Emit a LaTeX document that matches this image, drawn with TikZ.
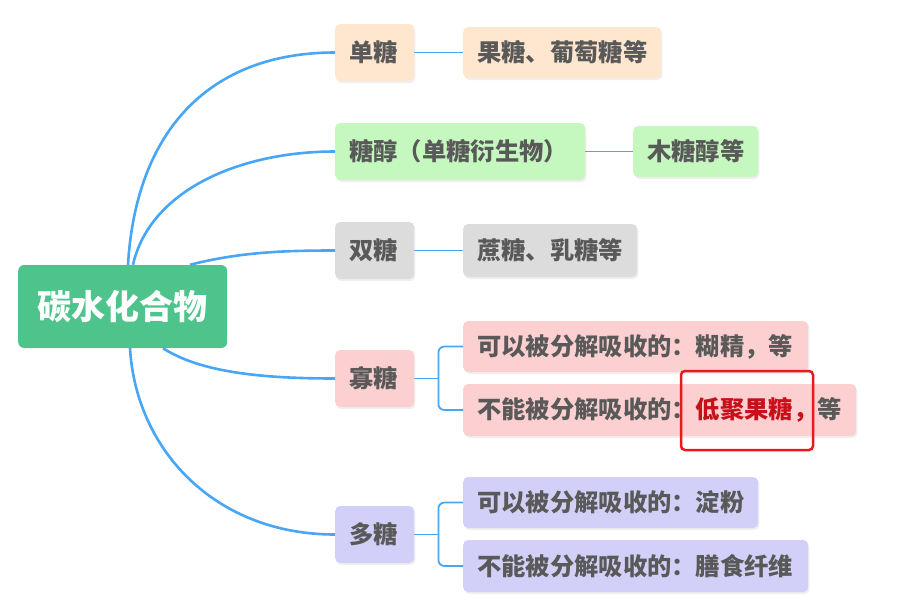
\documentclass[tikz,border=0pt]{standalone}
\usepackage{fontspec}
\setmainfont{Noto Sans CJK SC}
\usetikzlibrary{shadows,calc}
\definecolor{txt}{HTML}{595959}
\definecolor{rootc}{HTML}{4EC38B}
\definecolor{monoc}{HTML}{FFE6CE}
\definecolor{alcc}{HTML}{C4F8BE}
\definecolor{dic}{HTML}{DCDCDC}
\definecolor{olic}{HTML}{FCCFD0}
\definecolor{polyc}{HTML}{D2D0F8}
\definecolor{linec}{HTML}{47A6F5}
\definecolor{redt}{HTML}{C8101A}
\definecolor{redbox}{HTML}{E8191F}
\begin{document}
\begin{tikzpicture}[x=1pt,y=-1pt,
  shade/.style={drop shadow={shadow xshift=1.2pt,shadow yshift=-2pt,opacity=0.13}},
  box/.style={shade,rounded corners=5pt,anchor=west,inner xsep=14pt,inner ysep=0pt,
    align=left,text=txt,font=\bfseries\fontsize{24.3}{25}\selectfont},
  rootbox/.style={rounded corners=6pt,anchor=west,fill=rootc,text=white,
    minimum width=209pt,minimum height=83pt,inner sep=0pt,
    font=\bfseries\fontsize{34}{34}\selectfont},
  main/.style={draw=linec,line width=2.6pt},
  sub/.style={draw=linec,line width=1.8pt},
  hlbox/.style={draw=redbox,line width=2.5pt,rounded corners=4pt,inner sep=0pt,
    minimum width=132pt,minimum height=79pt}]
\useasboundingbox (0,0) rectangle (900,616);

% root
\node[rootbox] (root) at (18,306.5) {碳水化合物};

% level 1
\node[box,fill=monoc,minimum height=57pt,text width=51pt] (mono) at (335,52.5) {单糖};
\node[box,fill=alcc,minimum height=57pt,text width=222pt] (alc) at (335,151.5) {糖醇（单糖衍生物）};
\node[box,fill=dic,minimum height=57pt,text width=51pt] (di) at (335,250.5) {双糖};
\node[box,fill=olic,minimum height=57pt,text width=51pt] (oli) at (335,378.5) {寡糖};
\node[box,fill=polyc,minimum height=57pt,text width=51pt] (poly) at (335,534.5) {多糖};

% level 2
\node[box,fill=monoc,minimum height=51pt,text width=170pt] (fru) at (463,52.5) {果糖、葡萄糖等};
\node[box,fill=alcc,minimum height=51pt,text width=97pt] (xyl) at (633,151.5) {木糖醇等};
\node[box,fill=dic,minimum height=53pt,text width=146pt] (suc) at (463,250.5) {蔗糖、乳糖等};
\node[box,fill=olic,minimum height=51pt,text width=317pt] (o1) at (463,346.5) {可以被分解吸收的：糊精，等};
\node[box,fill=olic,minimum height=52pt,text width=365pt] (o2) at (463,410) {不能被分解吸收的：{\color{redt}低聚果糖，}等};
\node[box,fill=polyc,minimum height=51pt,text width=267pt] (p1) at (463,502.5) {可以被分解吸收的：淀粉};
\node[box,fill=polyc,minimum height=52pt,text width=317pt] (p2) at (463,566) {不能被分解吸收的：膳食纤维};

% highlight
\node[hlbox] (hl) at (747,410.5) {};

% root connectors
\draw[main] ($(root.north west)+(110,0)$) .. controls (136,130) and (210,52.5) .. (mono.west);
\draw[main] ($(root.north west)+(115,0)$) .. controls (150,190) and (240,151.5) .. (alc.west);
\draw[main] ($(root.north west)+(172,0)$) .. controls (240,252) and (285,250.5) .. (di.west);
\draw[main] ($(root.south west)+(145,0)$) .. controls (200,372) and (260,378.5) .. (oli.west);
\draw[main] ($(root.south west)+(112,0)$) .. controls (136,450) and (215,534.5) .. (poly.west);

% level connectors
\draw[sub] (mono.east) -- (fru.west);
\draw[sub] (alc.east) -- (xyl.west);
\draw[sub] (di.east) -- (suc.west);

\coordinate (ob) at ($(oli.east)+(24,0)$);
\draw[sub] (oli.east) -- (ob);
\draw[sub,rounded corners=6pt] (o1.west) -| (ob) |- (o2.west);

\coordinate (pb) at ($(poly.east)+(24,0)$);
\draw[sub] (poly.east) -- (pb);
\draw[sub,rounded corners=6pt] (p1.west) -| (pb) |- (p2.west);
\end{tikzpicture}
\end{document}
